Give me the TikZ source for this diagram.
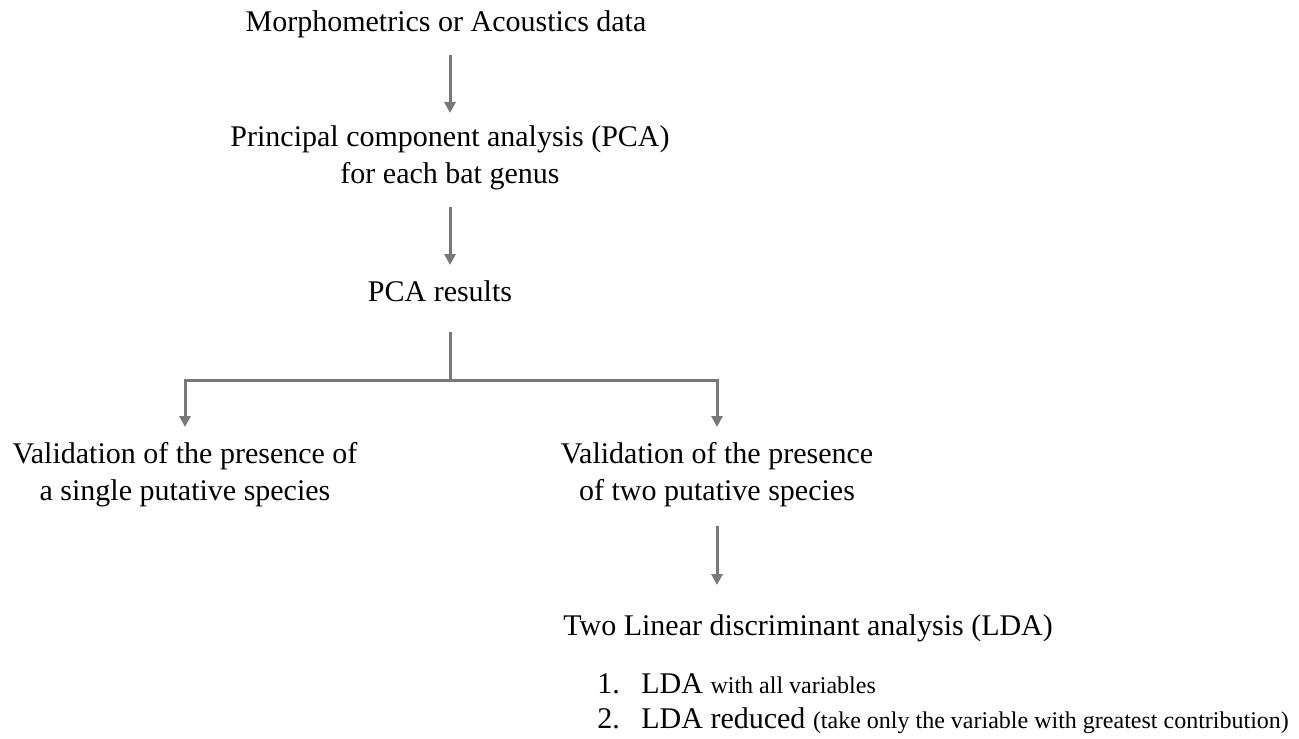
\documentclass[tikz,border=0pt]{standalone}
\usepackage{fontspec}
\setmainfont{Liberation Serif}
\usetikzlibrary{arrows.meta,calc}
\definecolor{flowgray}{RGB}{120,120,120}
\newcommand\smalltxt{\fontsize{12}{14}\selectfont}

\begin{document}
\begin{tikzpicture}[x=0.5pt,y=-0.5pt,
  lbl/.style={font=\fontsize{15}{18.3}\selectfont,inner sep=0pt,align=center,anchor=base},
  arr/.style={draw=flowgray,line width=1.5pt,-{Triangle[width=5.5pt,length=5.5pt]}},
  branch/.style={draw=flowgray,line width=1.5pt}]
  \useasboundingbox (0,0) rectangle (1299,738);

  \node [lbl] (data) at (446,32) {Morphometrics or Acoustics data};
  \node [lbl] (pca) at (450,183) {Principal component analysis (PCA)\\for each bat genus};
  \node [lbl] (res) at (440,301) {PCA results};
  \node [lbl] (one) at (185,500) {Validation of the presence of\\a single putative species};
  \node [lbl] (two) at (717,500) {Validation of the presence\\of two putative species};
  \node [lbl,anchor=base west] (lda) at (563,635) {Two Linear discriminant analysis (LDA)};
  \node [lbl,anchor=base west] (all) at (597,693) {\makebox[22pt][l]{1.}LDA {\smalltxt with all variables}};
  \node [lbl,anchor=base west] (red) at (597,728) {\makebox[22pt][l]{2.}LDA reduced {\smalltxt(take only the variable with greatest contribution)}};

  \coordinate (fork) at ($(pca.base |- res.base)+(0,79)$);

  \draw [arr] ($(pca.base |- data.base)+(0,23)$) -- ($(pca.base)+(0,-70)$);
  \draw [arr] ($(pca.base)+(0,24)$) -- ($(pca.base |- res.base)+(0,-36)$);
  \draw [branch] ($(pca.base |- res.base)+(0,31)$) -- (fork);
  \draw [arr] (fork) -| ($(one.base)+(0,-73)$);
  \draw [arr] (fork) -| ($(two.base)+(0,-73)$);
  \draw [arr] ($(two.base)+(0,26)$) -- ($(two.base |- lda.base)+(0,-50)$);

\end{tikzpicture}
\end{document}
